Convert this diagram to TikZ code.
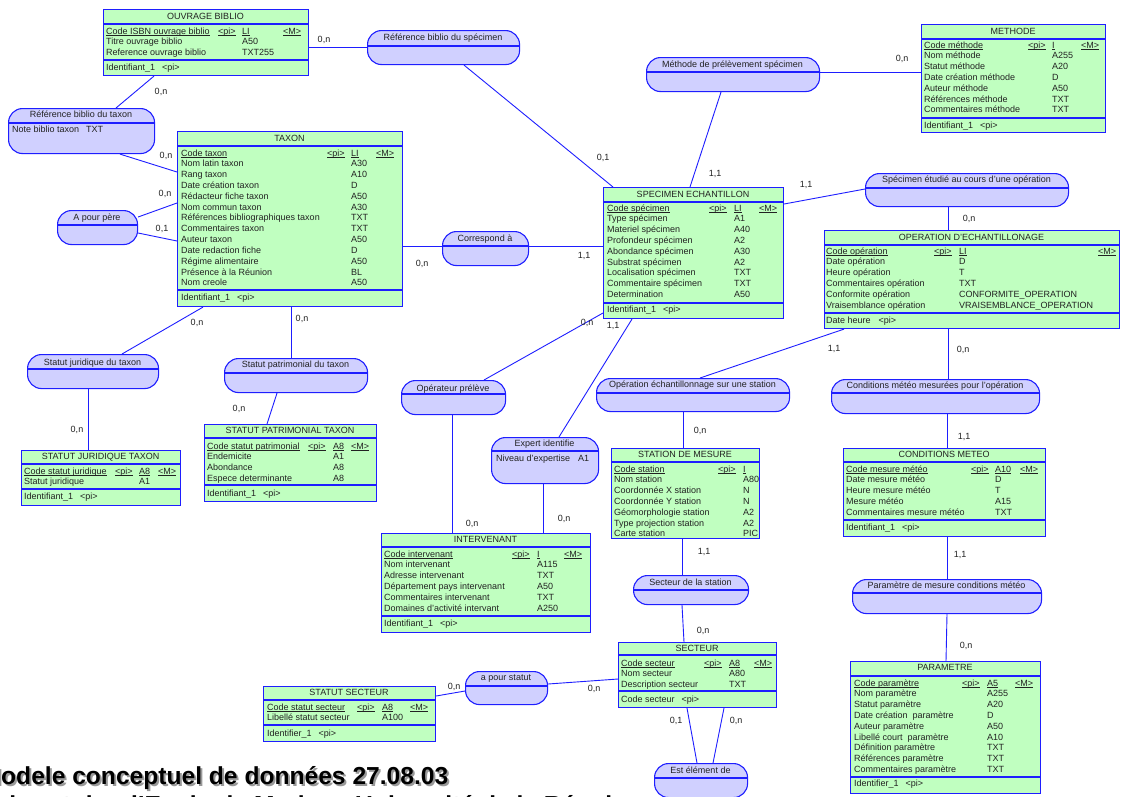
\documentclass[tikz,border=0pt]{standalone}
\usepackage{fontspec}
\setmainfont{Liberation Sans}
\definecolor{entfill}{HTML}{C0FFC0}
\definecolor{assfill}{HTML}{D0D0FF}
\definecolor{bl}{HTML}{1E1EFF}
\definecolor{tx}{HTML}{222222}
\newcommand\ul[1]{\setbox0\hbox{#1}\rlap{\rule[-1.6pt]{\wd0}{0.6pt}}\box0}
\tikzset{
  ent/.style={draw=bl, fill=entfill, line width=1.1pt, anchor=north west, inner sep=0pt},
  ass/.style={draw=bl, fill=assfill, line width=1.1pt, anchor=north west, inner sep=0pt, rounded corners=14pt},
  esep/.style={draw=bl, line width=1.1pt},
  conn/.style={draw=bl, line width=0.9pt},
  txt/.style={anchor=base west, inner sep=0pt, text=tx, font=\fontsize{9}{10.83}\selectfont},
  ctxt/.style={txt, anchor=base},
  lab/.style={anchor=center, inner sep=0pt, text=tx, font=\fontsize{9}{10.83}\selectfont},
  bigtitle/.style={anchor=base west, inner sep=0pt, font=\fontsize{24.6}{28}\selectfont\bfseries}
}
\newcommand\Ent[8]{%
  \node[ent, minimum width=#4pt, minimum height=#5pt] (#1) at (#2,#3) {};
  \draw[esep] (#1.west |- 0,#8) -- (#1.east |- 0,#8);
  \node[ctxt] (#1-t) at ({#2+#4/2},{#7+3}) {#6};}
\newcommand\Ass[8]{%
  \node[ass, minimum width={(#4-#2)*1pt}, minimum height={(#5-#3)*1pt}] (#1) at (#2,#3) {};
  \draw[esep] (#1.west |- 0,#6) -- (#1.east |- 0,#6);
  \node[ctxt] (#1-t) at ({(#2+#4)/2},{#8+3}) {#7};}
\newcommand\Rows[4]{%
  \foreach [count=\i] \t in {#4} {\node[txt] (#1\i) at ({#2},{#3+3+10.83*(\i-1)}) {\t};}}
\newcommand\Txt[4]{\node[txt] (#1) at ({#2},{#3+3}) {#4};}
\newcommand\Bsep[2]{\draw[esep] (#1.west |- 0,#2) -- (#1.east |- 0,#2);}
\begin{document}
\begin{tikzpicture}[x=1pt,y=-1pt]
\fill[white] (0,0) rectangle (1121,796);
\useasboundingbox (0,0) rectangle (1121,796);

% ---------------- associations ----------------
\Ass{refTax}{8}{108}{154}{153}{123}{Référence biblio du taxon}{114}
\Txt{refTaxa}{12}{129}{Note biblio taxon\hspace{7pt}TXT}
\Ass{refSpec}{367}{30}{519}{64}{46}{Référence biblio du spécimen}{37}
\Ass{methPrel}{646}{57}{819}{91}{72}{Méthode de prélèvement spécimen}{64}
\Ass{specOp}{865}{173}{1068}{206}{188}{Spécimen étudié au cours d'une opération}{179}
\Ass{pere}{57}{210}{137}{244}{225}{A pour père}{217}
\Ass{corr}{442}{231}{528}{265}{246}{Correspond à}{238}
\Ass{sjur}{27}{354}{158}{388}{369}{Statut juridique du taxon}{362}
\Ass{spat}{224}{358}{367}{392}{373}{Statut patrimonial du taxon}{364}
\Ass{oper}{401}{380}{505}{414}{394}{Opérateur prélève}{388}
\Ass{opst}{596}{378}{789}{411}{393}{Opération échantillonnage sur une station}{384}
\Ass{cond}{831}{379}{1039}{413}{393}{Conditions météo mesurées pour l'opération}{385}
\Ass{expert}{491}{437}{598}{483}{451}{Expert identifie}{443}
\Txt{experta}{496}{458}{Niveau d'expertise\hspace{8pt}A1}
\Ass{secst}{633}{575}{748}{604}{590}{Secteur de la station}{582}
\Ass{param}{852}{579}{1041}{613}{593}{Paramètre de mesure conditions météo}{585}
\Ass{statut}{465}{671}{547}{704}{686}{a pour statut}{677}
\Ass{elem}{654}{763}{747}{797}{778}{Est élément de}{770}

% ---------------- entities ----------------
% OUVRAGE BIBLIO
\Ent{ouv}{103}{9}{205}{66}{OUVRAGE BIBLIO}{16}{24}
\Bsep{ouv}{60}
\Rows{ouvn}{106}{31}{{\ul{Code ISBN ouvrage biblio}},Titre ouvrage biblio,Reference ouvrage biblio}
\Rows{ouvc}{242}{31}{{\ul{LI}},A50,TXT255}
\Txt{ouvpi}{218}{31}{\ul{<pi>}}
\Txt{ouvm}{283}{31}{\ul{<M>}}
\Txt{ouvid}{106}{67}{Identifiant\_1\hspace{7pt}<pi>}

% METHODE
\Ent{meth}{921}{24}{184}{108}{METHODE}{31}{39}
\Bsep{meth}{118}
\Rows{methn}{924}{45}{{\ul{Code méthode}},Nom méthode,Statut méthode,Date création méthode,Auteur méthode,Références méthode,Commentaires méthode}
\Rows{methc}{1052}{45}{{\ul{I}},A255,A20,D,A50,TXT,TXT}
\Txt{methpi}{1028}{45}{\ul{<pi>}}
\Txt{methm}{1081}{45}{\ul{<M>}}
\Txt{methid}{924}{125}{Identifiant\_1\hspace{7pt}<pi>}

% TAXON
\Ent{taxon}{177}{131}{225}{175}{TAXON}{138}{146}
\Bsep{taxon}{290}
\Rows{taxn}{181}{153}{{\ul{Code taxon}},Nom latin taxon,Rang taxon,Date création taxon,Rédacteur fiche taxon,Nom commun taxon,Références bibliographiques taxon,Commentaires taxon,Auteur taxon,Date redaction fiche,Régime alimentaire,Présence à la Réunion,Nom creole}
\Rows{taxc}{351}{153}{{\ul{LI}},A30,A10,D,A50,A30,TXT,TXT,A50,D,A50,BL,A50}
\Txt{taxpi}{327}{153}{\ul{<pi>}}
\Txt{taxm}{376}{153}{\ul{<M>}}
\Txt{taxid}{181}{297}{Identifiant\_1\hspace{7pt}<pi>}

% SPECIMEN ECHANTILLON
\Ent{spec}{603}{187}{180}{131}{SPECIMEN ECHANTILLON}{194}{202}
\Bsep{spec}{303}
\Rows{specn}{607}{208}{{\ul{Code spécimen}},Type spécimen,Materiel spécimen,Profondeur spécimen,Abondance spécimen,Substrat spécimen,Localisation spécimen,Commentaire spécimen,Determination}
\Rows{specc}{734}{208}{{\ul{LI}},A1,A40,A2,A30,A2,TXT,TXT,A50}
\Txt{specpi}{709}{208}{\ul{<pi>}}
\Txt{specm}{759}{208}{\ul{<M>}}
\Txt{specid}{607}{309}{Identifiant\_1\hspace{7pt}<pi>}

% OPERATION D'ECHANTILLONAGE
\Ent{op}{824}{230}{295}{98}{OPERATION D'ECHANTILLONAGE}{237}{245}
\Bsep{op}{313}
\Rows{opn}{826}{251}{{\ul{Code opération}},Date opération,Heure opération,Commentaires opération,Conformite opération,Vraisemblance opération}
\Rows{opc}{959}{251}{{\ul{LI}},D,T,TXT,CONFORMITE\_OPERATION,VRAISEMBLANCE\_OPERATION}
\Txt{oppi}{934}{251}{\ul{<pi>}}
\Txt{opm}{1098}{251}{\ul{<M>}}
\Txt{opid}{826}{320}{Date heure\hspace{8pt}<pi>}

% CONDITIONS METEO
\Ent{cm}{843}{448}{202}{88}{CONDITIONS METEO}{454}{462}
\Bsep{cm}{520}
\Rows{cmn}{846}{469}{{\ul{Code mesure météo}},Date mesure météo,Heure mesure météo,Mesure météo,Commentaires mesure météo}
\Rows{cmc}{995}{469}{{\ul{A10}},D,T,A15,TXT}
\Txt{cmpi}{971}{469}{\ul{<pi>}}
\Txt{cmm}{1020}{469}{\ul{<M>}}
\Txt{cmid}{846}{527}{Identifiant\_1\hspace{7pt}<pi>}

% PARAMETRE
\Ent{par}{850}{661}{190}{132}{PARAMETRE}{667}{676}
\Bsep{par}{777}
\Rows{parn}{854}{683}{{\ul{Code paramètre}},Nom paramètre,Statut paramètre,Date création\ \ paramètre,Auteur paramètre,Libellé court\ \ paramètre,Définition paramètre,Références paramètre,Commentaires paramètre}
\Rows{parc}{987}{683}{{\ul{A5}},A255,A20,D,A50,A10,TXT,TXT,TXT}
\Txt{parpi}{962}{683}{\ul{<pi>}}
\Txt{parm}{1015}{683}{\ul{<M>}}
\Txt{parid}{854}{783}{Identifier\_1\hspace{7pt}<pi>}

% STATUT JURIDIQUE TAXON
\Ent{sjt}{21}{450}{159}{55}{STATUT JURIDIQUE TAXON}{456}{464}
\Bsep{sjt}{489}
\Rows{sjtn}{24}{471}{{\ul{Code statut juridique}},Statut juridique}
\Rows{sjtc}{139}{471}{{\ul{A8}},A1}
\Txt{sjtpi}{115}{471}{\ul{<pi>}}
\Txt{sjtm}{158}{471}{\ul{<M>}}
\Txt{sjtid}{24}{496}{Identifiant\_1\hspace{7pt}<pi>}

% STATUT PATRIMONIAL TAXON
\Ent{spt}{204}{424}{172}{77}{STATUT PATRIMONIAL TAXON}{430}{438}
\Bsep{spt}{485}
\Rows{sptn}{207}{446}{{\ul{Code statut patrimonial}},Endemicite,Abondance,Espece determinante}
\Rows{sptc}{333}{446}{{\ul{A8}},A1,A8,A8}
\Txt{sptpi}{308}{446}{\ul{<pi>}}
\Txt{sptm}{351}{446}{\ul{<M>}}
\Txt{sptid}{207}{493}{Identifiant\_1\hspace{7pt}<pi>}

% INTERVENANT
\Ent{int}{381}{533}{209}{99}{INTERVENANT}{539}{547}
\Bsep{int}{616}
\Rows{intn}{384}{554}{{\ul{Code intervenant}},Nom intervenant,Adresse intervenant,Département pays intervenant,Commentaires intervenant,Domaines d'activité intervant}
\Rows{intc}{537}{554}{{\ul{I}},A115,TXT,A50,TXT,A250}
\Txt{intpi}{512}{554}{\ul{<pi>}}
\Txt{intm}{564}{554}{\ul{<M>}}
\Txt{intid}{384}{623}{Identifiant\_1\hspace{7pt}<pi>}

% STATION DE MESURE
\Ent{sta}{611}{448}{148}{90}{STATION DE MESURE}{454}{462}
\Rows{stan}{614}{469}{{\ul{Code station}},Nom station,Coordonnée X station,Coordonnée Y station,Géomorphologie station,Type projection station,Carte station}
\Rows{stac}{743}{469}{{\ul{I}},A80,N,N,A2,A2,PIC}
\Txt{stapi}{718}{469}{\ul{<pi>}}

% SECTEUR
\Ent{sec}{618}{642}{158}{65}{SECTEUR}{648}{655}
\Bsep{sec}{691}
\Rows{secn}{621}{663}{{\ul{Code secteur}},Nom secteur,Description secteur}
\Rows{secc}{729}{663}{{\ul{A8}},A80,TXT}
\Txt{secpi}{704}{663}{\ul{<pi>}}
\Txt{secm}{754}{663}{\ul{<M>}}
\Txt{secid}{621}{699}{Code secteur\hspace{7pt}<pi>}

% STATUT SECTEUR
\Ent{ss}{263}{686}{172}{55}{STATUT SECTEUR}{692}{700}
\Bsep{ss}{725}
\Rows{ssn}{267}{707}{{\ul{Code statut secteur}},Libellé statut secteur}
\Rows{ssc}{382}{707}{{\ul{A8}},A100}
\Txt{sspi}{357}{707}{\ul{<pi>}}
\Txt{ssm}{410}{707}{\ul{<M>}}
\Txt{ssid}{267}{733}{Identifier\_1\hspace{7pt}<pi>}

% ---------------- connectors ----------------
\draw[conn] (154,0 |- ouv.south) -- (116,0 |- refTax.north);
\draw[conn] (120,0 |- refTax.south) -- (taxon.west |- 0,172);
\draw[conn] (pere.east |- 0,217) -- (taxon.west |- 0,203);
\draw[conn] (pere.east |- 0,233) -- (taxon.west |- 0,241);
\draw[conn] (ouv.east |- 0,47) -- (refSpec.west |- 0,47);
\draw[conn] (464,0 |- refSpec.south) -- (613,0 |- spec.north);
\draw[conn] (721,0 |- methPrel.south) -- (690,0 |- spec.north);
\draw[conn] (methPrel.east |- 0,72) -- (meth.west |- 0,72);
\draw[conn] (taxon.east |- 0,246) -- (corr.west |- 0,246);
\draw[conn] (corr.east |- 0,246) -- (spec.west |- 0,246);
\draw[conn] (spec.east |- 0,204) -- (specOp.west |- 0,189);
\draw[conn] (948,0 |- specOp.south) -- (948,0 |- op.north);
\draw[conn] (844,0 |- op.south) -- (700,0 |- opst.north);
\draw[conn] (948,0 |- op.south) -- (948,0 |- cond.north);
\draw[conn] (947,0 |- cond.south) -- (947,0 |- cm.north);
\draw[conn] (947,0 |- cm.south) -- (947,0 |- param.north);
\draw[conn] (947,0 |- param.south) -- (946,0 |- par.north);
\draw[conn] (203,0 |- taxon.south) -- (122,0 |- sjur.north);
\draw[conn] (88,0 |- sjur.south) -- (88,0 |- sjt.north);
\draw[conn] (291,0 |- taxon.south) -- (291,0 |- spat.north);
\draw[conn] (277,0 |- spat.south) -- (267,0 |- spt.north);
\draw[conn] (spec.west |- 0,313) -- (484,0 |- oper.north);
\draw[conn] (452,0 |- oper.south) -- (452,0 |- int.north);
\draw[conn] (632,0 |- spec.south) -- (559,0 |- expert.north);
\draw[conn] (543,0 |- expert.south) -- (543,0 |- int.north);
\draw[conn] (683,0 |- opst.south) -- (683,0 |- sta.north);
\draw[conn] (682,0 |- sta.south) -- (682,0 |- secst.north);
\draw[conn] (682,0 |- secst.south) -- (684,0 |- sec.north);
\draw[conn] (sec.west |- 0,679) -- (statut.east |- 0,684);
\draw[conn] (statut.west |- 0,691) -- (ss.east |- 0,696);
\draw[conn] (687,0 |- sec.south) -- (697,0 |- elem.north);
\draw[conn] (724,0 |- sec.south) -- (713,0 |- elem.north);

% ---------------- cardinalities ----------------
\node[lab] (l1) at (161,92) {0,n};
\node[lab] (l2) at (166,156) {0,n};
\node[lab] (l3) at (165,194) {0,n};
\node[lab] (l4) at (162,229) {0,1};
\node[lab] (l5) at (324,40) {0,n};
\node[lab] (l6) at (603,158) {0,1};
\node[lab] (l7) at (715,174) {1,1};
\node[lab] (l8) at (902,59) {0,n};
\node[lab] (l9) at (422,264) {0,n};
\node[lab] (l10) at (584,256) {1,1};
\node[lab] (l11) at (806,185) {1,1};
\node[lab] (l12) at (969,219) {0,n};
\node[lab] (l13) at (834,349) {1,1};
\node[lab] (l14) at (963,350) {0,n};
\node[lab] (l15) at (964,437) {1,1};
\node[lab] (l16) at (960,555) {1,1};
\node[lab] (l17) at (966,646) {0,n};
\node[lab] (l18) at (197,323) {0,n};
\node[lab] (l19) at (77,430) {0,n};
\node[lab] (l20) at (302,319) {0,n};
\node[lab] (l21) at (239,409) {0,n};
\node[lab] (l22) at (587,323) {0,n};
\node[lab] (l23) at (472,524) {0,n};
\node[lab] (l24) at (613,326) {1,1};
\node[lab] (l25) at (564,519) {0,n};
\node[lab] (l26) at (700,431) {0,n};
\node[lab] (l27) at (704,552) {1,1};
\node[lab] (l28) at (703,631) {0,n};
\node[lab] (l29) at (594,689) {0,n};
\node[lab] (l30) at (454,687) {0,n};
\node[lab] (l31) at (676,721) {0,1};
\node[lab] (l32) at (736,721) {0,n};

% ---------------- title ----------------
\node[bigtitle, text=black!40] (titsh) at (-17.5,786) {Modele conceptuel de données 27.08.03};
\node[bigtitle, text=black] (tit) at (-19.5,784) {Modele conceptuel de données 27.08.03};
\node[bigtitle, text=black!40] (tit2sh) at (-17.5,815) {Laboratoire d'Ecologie Marine - Université de la Réunion};
\node[bigtitle, text=black] (tit2) at (-19.5,813) {Laboratoire d'Ecologie Marine - Université de la Réunion};
\end{tikzpicture}
\end{document}
